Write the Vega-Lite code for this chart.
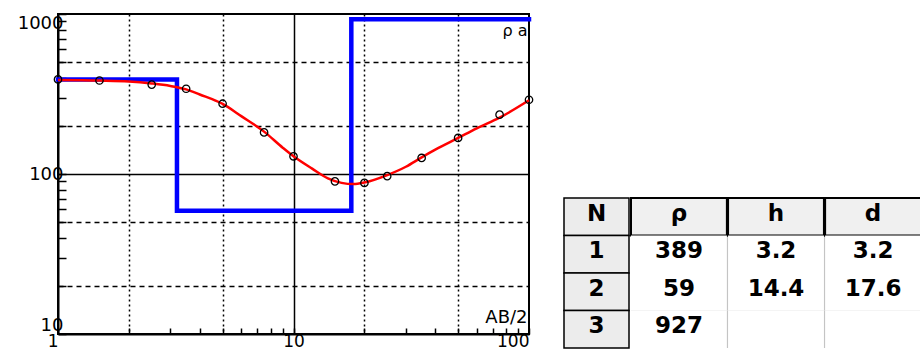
{
  "$schema": "https://vega.github.io/schema/vega-lite/v6.json",
  "background": "white",
  "padding": {"left": 0, "top": 9, "right": 0, "bottom": 0},
  "spacing": 24,
  "config": {
    "font": "DejaVu Sans",
    "view": {"stroke": null},
    "axis": {"labelColor": "black", "titleColor": "black", "labelFont": "DejaVu Sans", "titleFont": "DejaVu Sans", "titleFontWeight": "normal"}
  },
  "hconcat": [
    {
      "width": 471,
      "height": 320,
      "view": {"stroke": "black", "strokeWidth": 2},
      "encoding": {
        "x": {
          "field": "ab2", "type": "quantitative",
          "scale": {"type": "log", "domain": [1, 100], "nice": false},
          "axis": {
            "title": "AB/2", "titleX": 469, "titleY": -12, "titleAlign": "right", "titleAnchor": null, "titleBaseline": "alphabetic", "titleFontSize": 18,
            "values": [1, 2, 3, 4, 5, 6, 7, 8, 9, 10, 20, 30, 40, 50, 60, 70, 80, 90, 100],
            "labelExpr": "(datum.value == 1 || datum.value == 10 || datum.value == 100) ? datum.value + '' : ''",
            "labelFlush": false,
            "labelOverlap": false,
            "labelAlign": {"condition": {"test": "datum.value == 10", "value": "center"}, "value": "right"},
            "labelFontSize": 17, "labelPadding": 5,
            "tickSize": -6, "tickColor": "black", "tickWidth": 1.5,
            "domainColor": "black", "domainWidth": 2,
            "grid": true, "gridColor": "black", "gridWidth": 1.5,
            "gridDash": {"condition": {"test": "datum.value == 10", "value": []}, "value": [2, 3]},
            "gridOpacity": {"condition": {"test": "indexof([2, 5, 10, 20, 50], datum.value) >= 0", "value": 1}, "value": 0}
          }
        },
        "y": {
          "field": "rho", "type": "quantitative",
          "scale": {"type": "log", "domain": [10, 1000], "nice": false},
          "axis": {
            "title": "ρ a", "titleX": 469, "titleY": 21, "titleAlign": "right", "titleAngle": 0, "titleAnchor": null, "titleBaseline": "alphabetic", "titleFontSize": 16,
            "values": [10, 20, 30, 40, 50, 60, 70, 80, 90, 100, 200, 300, 400, 500, 600, 700, 800, 900, 1000],
            "labelExpr": "(datum.value == 10 || datum.value == 100 || datum.value == 1000) ? datum.value + '' : ''",
            "labelFlush": true,
            "labelOverlap": false,
            "labelFontSize": 18, "labelPadding": 3,
            "tickSize": -8, "tickColor": "black", "tickWidth": 1.5,
            "domainColor": "black", "domainWidth": 2,
            "minExtent": 57, "maxExtent": 57,
            "grid": true, "gridColor": "black", "gridWidth": 1.5,
            "gridDash": {"condition": {"test": "datum.value == 100", "value": []}, "value": [5, 4]},
            "gridOpacity": {"condition": {"test": "indexof([20, 50, 100, 200, 500], datum.value) >= 0", "value": 1}, "value": 0}
          }
        }
      },
      "layer": [
        {
          "data": {"values": [
            {"i": 1, "ab2": 1, "rho": 389},
            {"i": 2, "ab2": 3.2, "rho": 389},
            {"i": 3, "ab2": 3.2, "rho": 59},
            {"i": 4, "ab2": 17.6, "rho": 59},
            {"i": 5, "ab2": 17.6, "rho": 927},
            {"i": 6, "ab2": 100, "rho": 927}
          ]},
          "mark": {"type": "line", "color": "#0000ff", "strokeWidth": 4.5, "strokeJoin": "miter", "strokeCap": "square"},
          "encoding": {"order": {"field": "i", "type": "quantitative"}}
        },
        {
          "data": {"values": [
            {"ab2": 1, "rho": 387}, {"ab2": 1.5, "rho": 384}, {"ab2": 2, "rho": 379}, {"ab2": 2.5, "rho": 368},
            {"ab2": 3, "rho": 355}, {"ab2": 3.5, "rho": 338}, {"ab2": 4, "rho": 314}, {"ab2": 5, "rho": 274},
            {"ab2": 6, "rho": 230}, {"ab2": 7.5, "rho": 184}, {"ab2": 9, "rho": 146}, {"ab2": 10, "rho": 129},
            {"ab2": 12, "rho": 108}, {"ab2": 14, "rho": 94}, {"ab2": 16, "rho": 88}, {"ab2": 18, "rho": 86.5},
            {"ab2": 20, "rho": 88.5}, {"ab2": 25, "rho": 98.5}, {"ab2": 30, "rho": 111}, {"ab2": 35, "rho": 127},
            {"ab2": 40, "rho": 142}, {"ab2": 50, "rho": 168}, {"ab2": 60, "rho": 193}, {"ab2": 75, "rho": 225},
            {"ab2": 100, "rho": 289}
          ]},
          "mark": {"type": "line", "color": "#ff0000", "strokeWidth": 2.5, "interpolate": "monotone"},
          "encoding": {}
        },
        {
          "data": {"values": [
            {"ab2": 1, "rho": 390}, {"ab2": 1.5, "rho": 384}, {"ab2": 2.5, "rho": 362}, {"ab2": 3.5, "rho": 341},
            {"ab2": 5, "rho": 275}, {"ab2": 7.5, "rho": 182}, {"ab2": 10, "rho": 129}, {"ab2": 15, "rho": 90},
            {"ab2": 20, "rho": 88}, {"ab2": 25, "rho": 97}, {"ab2": 35, "rho": 126}, {"ab2": 50, "rho": 168},
            {"ab2": 75, "rho": 235}, {"ab2": 100, "rho": 291}
          ]},
          "mark": {"type": "point", "shape": "circle", "size": 55, "filled": false, "stroke": "black", "strokeWidth": 1.3, "opacity": 1},
          "encoding": {}
        }
      ]
    },
    {
      "spacing": 0,
      "hconcat": [
        {
          "width": 65,
          "height": 335,
          "data": {"values": [
            {"row": "hdr", "label": "N"}, {"row": "1", "label": "1"}, {"row": "2", "label": "2"}, {"row": "3", "label": "3"}
          ]},
          "encoding": {
            "y": {"field": "row", "type": "nominal", "sort": null, "scale": {"domain": ["hdr", "1", "2", "3"], "range": [184, 334], "paddingInner": 0, "paddingOuter": 0}, "axis": null}
          },
          "layer": [
            {"mark": {"type": "rect", "fill": "#ececec", "stroke": "black", "strokeWidth": 1.5}, "encoding": {}},
            {"mark": {"type": "text", "font": "DejaVu Sans", "fontSize": 23, "fontWeight": "bold", "color": "black", "dy": -3}, "encoding": {"text": {"field": "label"}}}
          ]
        },
        {
          "width": 290,
          "height": 335,
          "data": {"values": [
            {"row": "hdr", "col": "ρ", "label": "ρ"}, {"row": "hdr", "col": "h", "label": "h"}, {"row": "hdr", "col": "d", "label": "d"},
            {"row": "1", "col": "ρ", "label": "389"}, {"row": "1", "col": "h", "label": "3.2"}, {"row": "1", "col": "d", "label": "3.2"},
            {"row": "2", "col": "ρ", "label": "59"}, {"row": "2", "col": "h", "label": "14.4"}, {"row": "2", "col": "d", "label": "17.6"},
            {"row": "3", "col": "ρ", "label": "927"}, {"row": "3", "col": "h", "label": ""}, {"row": "3", "col": "d", "label": ""}
          ]},
          "encoding": {
            "y": {"field": "row", "type": "nominal", "sort": null, "scale": {"domain": ["hdr", "1", "2", "3"], "range": [184, 334], "paddingInner": 0, "paddingOuter": 0}, "axis": null}
          },
          "layer": [
            {
              "transform": [{"filter": "datum.col == 'ρ'"}],
              "mark": {"type": "rect"},
              "encoding": {"fill": {"condition": {"test": "datum.row == 'hdr'", "value": "black"}, "value": "#c4c4c4"}}
            },
            {
              "mark": {"type": "rect", "strokeWidth": 2},
              "encoding": {
                "x": {"field": "col", "type": "nominal", "sort": null, "scale": {"domain": ["ρ", "h", "d"], "paddingInner": 0.012, "paddingOuter": 0}, "axis": null},
                "fill": {"condition": {"test": "datum.row == 'hdr'", "value": "#f0f0f0"}, "value": "white"},
                "stroke": {"condition": {"test": "datum.row == 'hdr'", "value": "black"}, "value": "transparent"}
              }
            },
            {
              "mark": {"type": "text", "font": "DejaVu Sans", "fontSize": 23, "fontWeight": "bold", "color": "black", "dy": -3},
              "encoding": {
                "x": {"field": "col", "type": "nominal", "sort": null},
                "text": {"field": "label"}
              }
            }
          ]
        }
      ]
    }
  ]
}
